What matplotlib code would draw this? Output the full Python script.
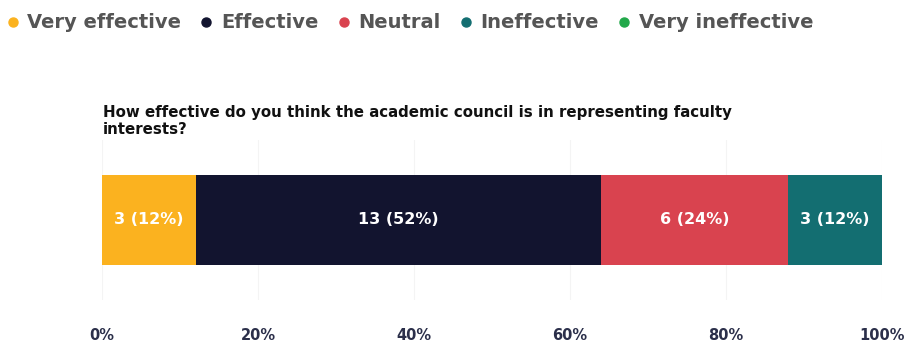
import matplotlib.pyplot as plt

categories = ["Very effective", "Effective", "Neutral", "Ineffective", "Very ineffective"]
counts = [3, 13, 6, 3, 0]
percents = [12, 52, 24, 12, 0]
colors = ["#FBB21F", "#12142F", "#D9434F", "#136E71", "#22A84A"]
tick_values = [0, 20, 40, 60, 80, 100]
question = "How effective do you think the academic council is in representing faculty\ninterests?"

plt.rcParams["font.family"] = ["DejaVu Sans"]

fig = plt.figure(figsize=(9.07, 3.45), dpi=100)
ax = fig.add_axes([102 / 907, 45 / 345, 780 / 907, 160 / 345])

# Stacked horizontal bar, one segment per answer
left = 0
for cat, n, p, c in zip(categories, counts, percents, colors):
    if p > 0:
        ax.barh(0, p, left=left, height=1.125, color=c, zorder=2)
        ax.text(left + p / 2, 0, f"{n} ({p}%)", ha="center", va="center",
                color="white", fontsize=11.5, fontweight="bold")
    left += p

ax.set_xlim(0, 100)
ax.set_ylim(-1, 1)
ax.set_yticks([])
ax.set_xticks(tick_values)
ax.set_xticklabels([f"{t}%" for t in tick_values], fontsize=10.5,
                   fontweight="bold", color="#2B2F4A")
ax.tick_params(axis="x", length=0, pad=20)
ax.grid(axis="x", color="#F4F4F4", linewidth=0.8, zorder=0)
for s in ax.spines.values():
    s.set_visible(False)

fig.text(103 / 907, 1 - 121 / 345, question, fontsize=10.8, fontweight="bold",
         color="#111111", va="center", linespacing=1.22)

# Legend row across the top
handles = [plt.Line2D([], [], marker="o", linestyle="", markersize=6.5,
                      markerfacecolor=c, markeredgecolor=c) for c in colors]
fig.legend(handles, categories, loc="center left", bbox_to_anchor=(0.002, 1 - 23 / 345),
           ncol=5, frameon=False, borderpad=0, borderaxespad=0.3,
           handlelength=0.5, handletextpad=0.5, columnspacing=1.05,
           prop={"size": 14, "weight": "bold"}, labelcolor="#555555")

fig.savefig("out.png", dpi=100)
